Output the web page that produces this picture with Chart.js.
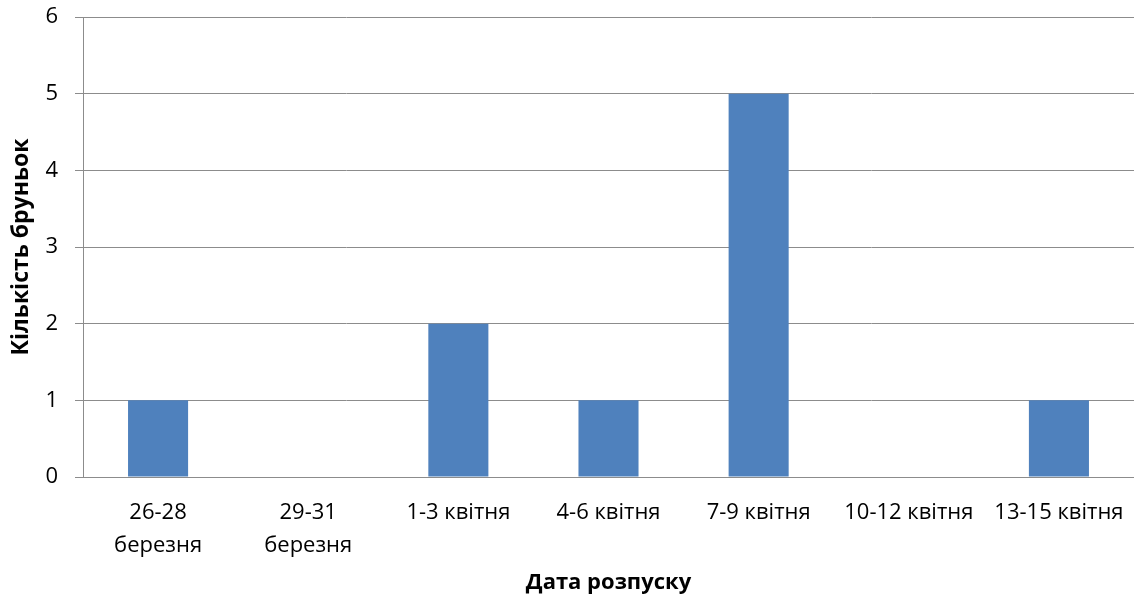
<!DOCTYPE html>
<html><head><meta charset="utf-8">
<script src="https://cdn.jsdelivr.net/npm/chart.js@4/dist/chart.umd.min.js"></script>
<style>html,body{margin:0;padding:0;background:#fff}#wrap{width:1134px;height:597px;position:relative}</style>
</head><body><div id="wrap"><canvas id="c"></canvas></div>
<script>
const categories = [["26-28","березня"],["29-31","березня"],"1-3 квітня","4-6 квітня","7-9 квітня","10-12 квітня","13-15 квітня"];
const values = [1,0,2,1,5,0,1];
const yTicks = [0,1,2,3,4,5,6];
const xTitle = "Дата розпуску";
const yTitle = "Кількість бруньок";
const FONT = "'Open Sans', sans-serif";
new Chart(document.getElementById('c'), {
  type: 'bar',
  data: { labels: categories, datasets: [{ data: values, backgroundColor: '#4f81bd', borderWidth: 0, barPercentage: 0.4, categoryPercentage: 1 }] },
  options: {
    responsive: true, maintainAspectRatio: false, animation: false,
    layout: { padding: { top: 17, right: 0, left: 0, bottom: 1 } },
    plugins: { legend: { display: false }, tooltip: { enabled: false } },
    scales: {
      x: {
        afterFit: s => { s.height = 119; s.paddingLeft = 0; s.paddingRight = 0; },
        grid: { display: false, drawTicks: false },
        border: { color: '#8c8c8c', width: 1 },
        ticks: { color: '#000', font: { family: FONT, size: 22, lineHeight: 1.5 }, padding: 19, maxRotation: 0, autoSkip: false },
        title: { display: true, text: xTitle, color: '#000', font: { family: FONT, size: 22, weight: 'bold', lineHeight: 1.2 }, padding: { top: 7, bottom: 0 } }
      },
      y: {
        min: 0, max: 6,
        afterFit: s => { s.width = 83; s.paddingTop = 0; s.paddingBottom = 0; },
        afterBuildTicks: s => { s.ticks = yTicks.map(v => ({ value: v })); },
        grid: { color: '#8c8c8c', lineWidth: 1, tickLength: 8, drawTicks: true },
        border: { color: '#8c8c8c', width: 1 },
        ticks: { color: '#000', font: { family: FONT, size: 22 }, padding: 17 },
        title: { display: true, text: yTitle, color: '#000', font: { family: FONT, size: 23, weight: 'bold' }, padding: { top: 8, bottom: 0 } }
      }
    }
  }
});
</script></body></html>
